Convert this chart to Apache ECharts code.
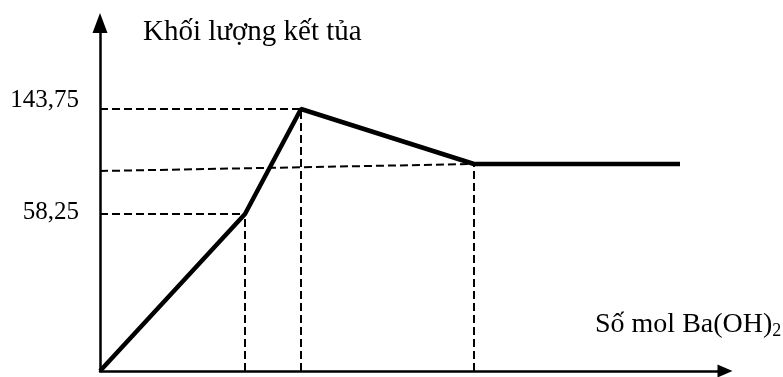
<!DOCTYPE html>
<html>
<head>
    <meta charset="utf-8">
    <title>Khối lượng kết tủa</title>
    <script src="https://cdn.jsdelivr.net/npm/echarts@6/dist/echarts.min.js"></script>
</head>
<body style="margin:0">
    <div id="c" style="width:783px;height:377px;"></div>
    <script>
        // schematic positions (units along the axes)
        var xPoints = [0, 145, 201, 374, 580];
        var yPoints = [0, 157, 262, 207, 207];
        // dashed guides: corner points and where the horizontal guide meets the y axis
        var guideX = [145, 201, 374];
        var guideY = [157, 262, 207];
        var guideLeftY = [157, 262, 200];
        // y tick labels
        var yTickValues = [157, 262];
        var yTickLabels = ['58,25', '143,75'];

        var font = '"Liberation Serif", "DejaVu Serif", serif';

        var mainData = xPoints.map(function (x, i) { return [x, yPoints[i]]; });

        var series = [{
            type: 'line',
            data: mainData,
            symbol: 'none',
            lineStyle: { color: '#000', width: 4.5 },
            z: 5
        }];
        guideX.forEach(function (x, i) {
            series.push({
                type: 'line',
                data: [[0, guideLeftY[i]], [x, guideY[i]]],
                symbol: 'none',
                lineStyle: { color: '#000', width: 2, type: [8, 4] }
            });
            series.push({
                type: 'line',
                data: [[x, 0], [x, guideY[i]]],
                symbol: 'none',
                lineStyle: { color: '#000', width: 2, type: [8, 4] }
            });
        });

        var myChart = echarts.init(document.getElementById('c'));
        var option = {
            animation: false,
            backgroundColor: '#fff',
            grid: { left: 100, right: 58, top: 23, bottom: 6 },
            xAxis: {
                type: 'value',
                min: 0,
                max: 625,
                axisLine: { lineStyle: { color: '#000', width: 2.5 }, symbol: ['none', 'triangle'], symbolSize: [13, 15] },
                axisTick: { show: false },
                axisLabel: { show: false },
                splitLine: { show: false }
            },
            yAxis: {
                type: 'value',
                min: 0,
                max: 348,
                axisLine: { show: true, lineStyle: { color: '#000', width: 2.5 }, symbol: ['none', 'triangle'], symbolSize: [15, 20] },
                axisTick: { show: false },
                splitLine: { show: false },
                axisLabel: {
                    customValues: yTickValues,
                    margin: 21,
                    color: '#000',
                    fontFamily: font,
                    fontSize: 25,
                    formatter: function (v) {
                        var i = yTickValues.indexOf(v);
                        if (i < 0) return '';
                        return i === 1 ? '{up|' + yTickLabels[i] + '}' : '{n|' + yTickLabels[i] + '}';
                    },
                    rich: {
                        up: { fontFamily: font, fontSize: 25, color: '#000', padding: [0, 0, 18, 0] },
                        n: { fontFamily: font, fontSize: 25, color: '#000', padding: [0, 0, 4, 0] }
                    }
                }
            },
            graphic: [{
                type: 'text',
                left: 143,
                top: 18,
                style: { text: 'Khối lượng kết tủa', font: '29px ' + font, fill: '#000' }
            }, {
                type: 'text',
                left: 595,
                top: 311,
                style: {
                    text: '{m|Số mol Ba(OH)}{s|2}',
                    fill: '#000',
                    rich: {
                        m: { fontFamily: font, fontSize: 28, color: '#000' },
                        s: { fontFamily: font, fontSize: 18, color: '#000', padding: [12, 0, 0, 0] }
                    }
                }
            }],
            series: series
        };
        myChart.setOption(option);
    </script>
</body>
</html>
